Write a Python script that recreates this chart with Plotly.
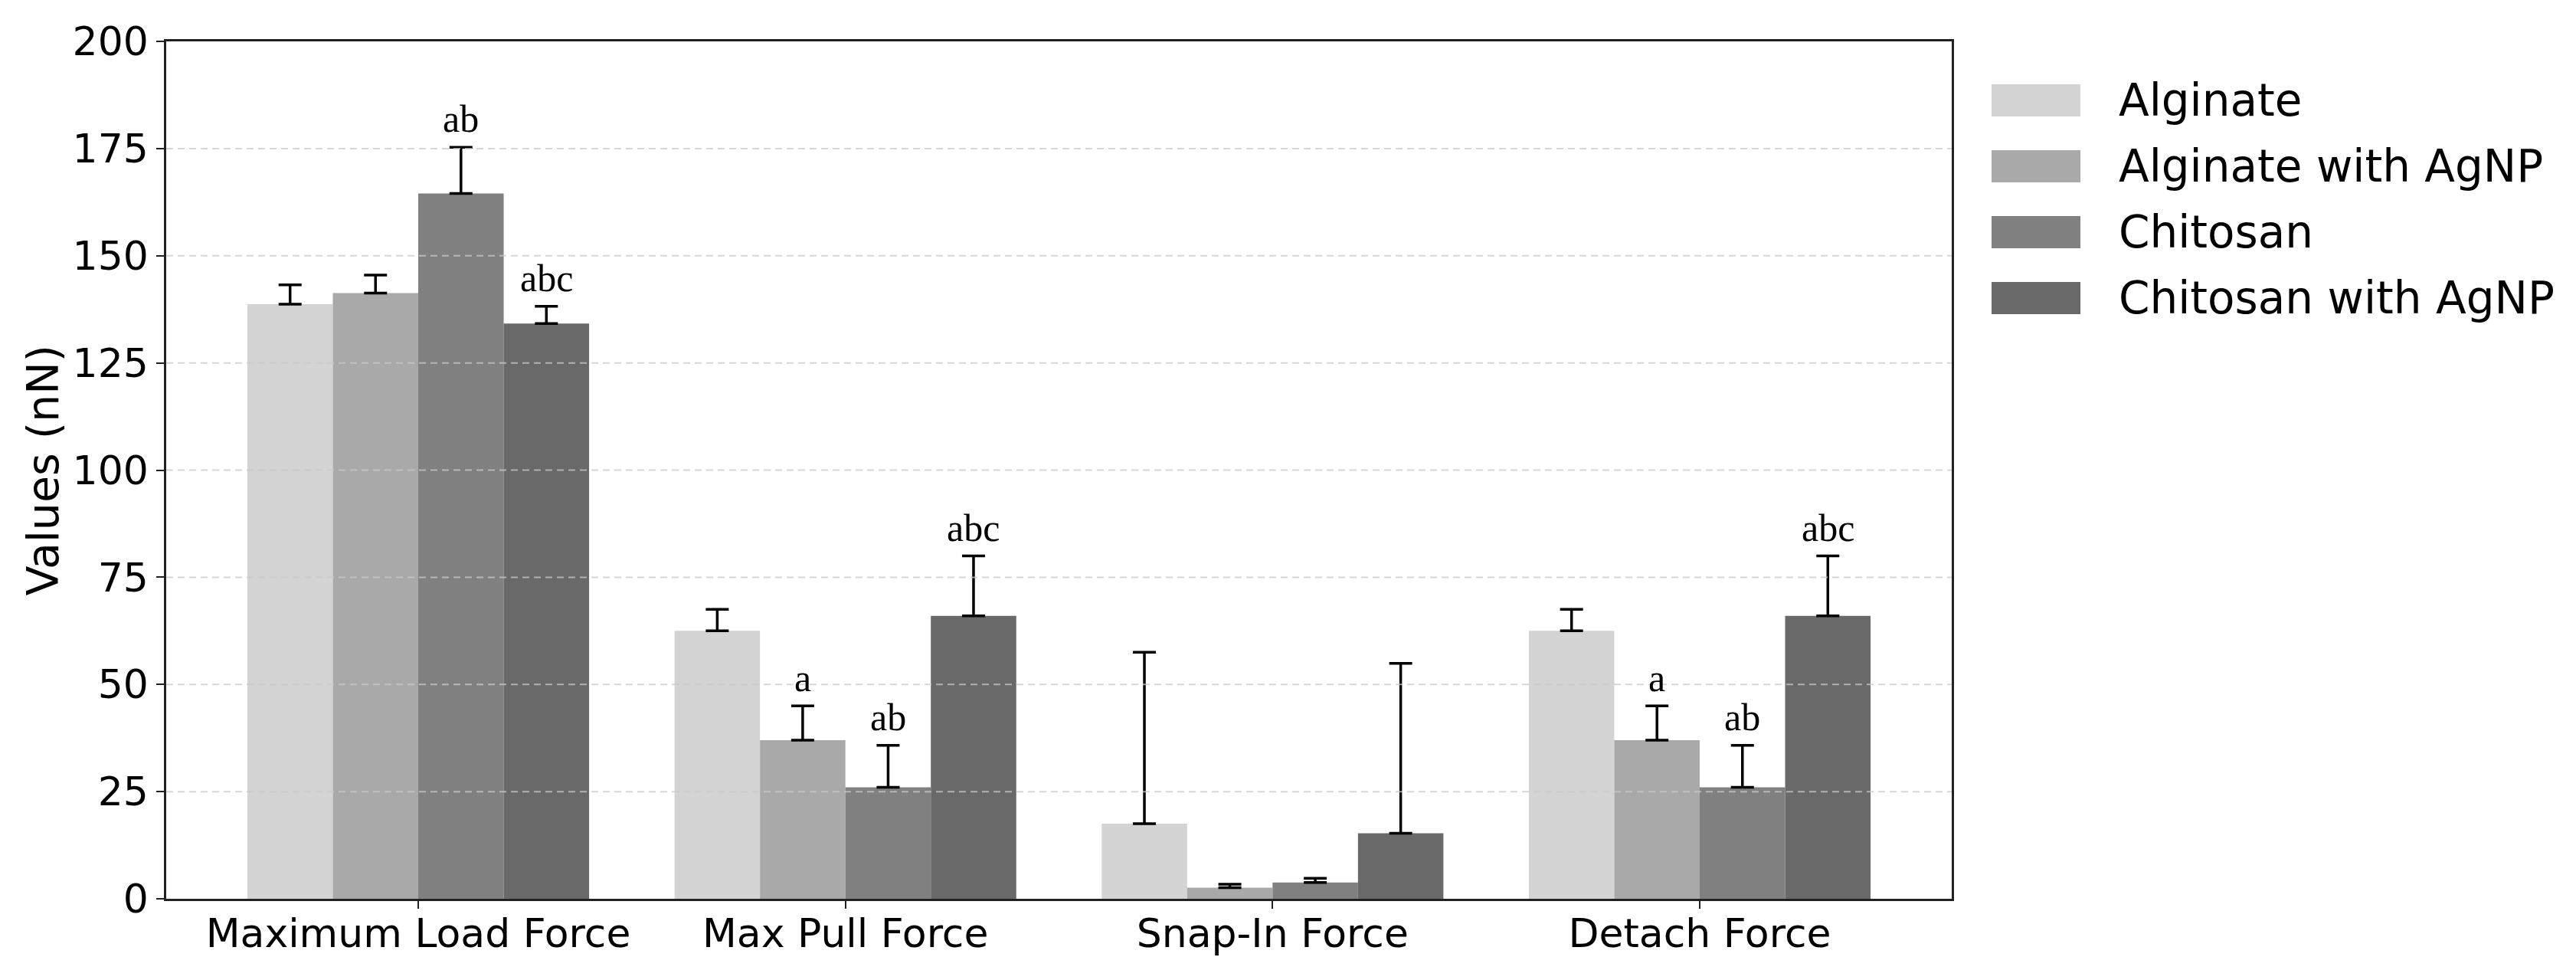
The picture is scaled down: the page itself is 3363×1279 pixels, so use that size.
import plotly.graph_objects as go

categories = ["Maximum Load Force", "Max Pull Force", "Snap-In Force", "Detach Force"]
series_names = ["Alginate", "Alginate with AgNP", "Chitosan", "Chitosan with AgNP"]
alginate = [138.7, 62.5, 17.5, 62.5]
alginate_agnp = [141.3, 37.0, 2.6, 37.0]
chitosan = [164.5, 26.0, 3.8, 26.0]
chitosan_agnp = [134.2, 66.0, 15.3, 66.0]
alginate_err = [4.5, 5.0, 40.0, 5.0]
alginate_agnp_err = [4.2, 8.0, 0.8, 8.0]
chitosan_err = [10.8, 9.8, 1.0, 9.8]
chitosan_agnp_err = [4.0, 14.0, 39.6, 14.0]
alginate_sig = ["", "", "", ""]
alginate_agnp_sig = ["", "a", "", "a"]
chitosan_sig = ["ab", "ab", "", "ab"]
chitosan_agnp_sig = ["abc", "abc", "", "abc"]
ytick_vals = [0, 25, 50, 75, 100, 125, 150, 175, 200]
y_title = "Values (nN)"

values = [alginate, alginate_agnp, chitosan, chitosan_agnp]
errors = [alginate_err, alginate_agnp_err, chitosan_err, chitosan_agnp_err]
sigs = [alginate_sig, alginate_agnp_sig, chitosan_sig, chitosan_agnp_sig]
colors = ["#d3d3d3", "#a9a9a9", "#808080", "#696969"]

FONT = "DejaVu Sans"
W, H = 3363, 1279
OFF = 8  # page body margin
PL, PR, PT, PB = 217, 2548, 54, 1173  # plot area in page pixels
ML, MT = PL - OFF, PT - OFF
MR, MB = W - PR + OFF, H - PB + OFF

fig = go.Figure()
for j in range(4):
    fig.add_trace(go.Bar(
        x=categories, y=values[j], name=series_names[j],
        marker=dict(color=colors[j], line=dict(width=0)),
        error_y=dict(type="data", symmetric=False, array=errors[j],
                     arrayminus=[0] * len(errors[j]),
                     color="black", thickness=3.5, width=15),
        showlegend=False,
    ))

nser = 4
bw = 0.8 / nser
annotations = []
for j in range(nser):
    for i, lab in enumerate(sigs[j]):
        if not lab:
            continue
        annotations.append(dict(
            x=i + (j - (nser - 1) / 2) * bw, y=values[j][i] + errors[j][i] + 1.2,
            xref="x", yref="y", text=lab, showarrow=False, yanchor="bottom",
            font=dict(family="Liberation Serif", size=50, color="black"),
        ))

plot_w = PR - PL
plot_h = PB - PT
def px_to_paper_x(px):
    return (px - PL) / plot_w
def py_to_paper_y(py):
    return (PB - py) / plot_h

# y-axis title placed as rotated text
annotations.append(dict(x=px_to_paper_x(55), y=0.5, xref="paper", yref="paper",
                        text=y_title, textangle=-90, showarrow=False,
                        xanchor="center", yanchor="middle",
                        font=dict(family=FONT, size=57, color="black")))

shapes = []
leg_y0 = 131
leg_dy = 86
for j in range(nser):
    cy = leg_y0 + j * leg_dy
    shapes.append(dict(type="rect", xref="paper", yref="paper",
                       x0=px_to_paper_x(2600), x1=px_to_paper_x(2716),
                       y0=py_to_paper_y(cy + 21), y1=py_to_paper_y(cy - 21),
                       fillcolor=colors[j], line=dict(width=0)))
    annotations.append(dict(x=px_to_paper_x(2764), y=py_to_paper_y(cy), xref="paper", yref="paper",
                            text=series_names[j], showarrow=False, xanchor="left", yanchor="middle",
                            font=dict(family=FONT, size=58, color="black")))

# dashed grid drawn above bars
for v in ytick_vals[1:-1]:
    shapes.append(dict(type="line", xref="paper", yref="y", x0=0, x1=1, y0=v, y1=v,
                       layer="above", line=dict(color="rgba(200,200,200,0.75)", width=2, dash="9px,6px")))

fig.update_layout(
    width=W, height=H,
    margin=dict(l=ML, r=MR, t=MT, b=MB, autoexpand=False),
    barmode="group", bargap=0.2, bargroupgap=0,
    plot_bgcolor="white", paper_bgcolor="white",
    font=dict(family=FONT, size=52, color="black"),
    annotations=annotations, shapes=shapes,
    showlegend=False,
)
fig.update_xaxes(
    range=[-0.59, 3.59], showgrid=False, showline=True, linecolor="#222", linewidth=2.5,
    mirror=True, ticks="outside", ticklen=10, tickwidth=2, tickcolor="#222",
    ticklabelstandoff=-12,
    tickfont=dict(family=FONT, size=52, color="black"),
)
fig.update_yaxes(
    range=[0, 200], tickvals=ytick_vals, showgrid=False, zeroline=False,
    showline=True, linecolor="#222", linewidth=2.5, mirror=True,
    ticks="outside", ticklen=10, tickwidth=2, tickcolor="#222",
    tickfont=dict(family=FONT, size=52, color="black"),
)

fig.write_html("out.html")
